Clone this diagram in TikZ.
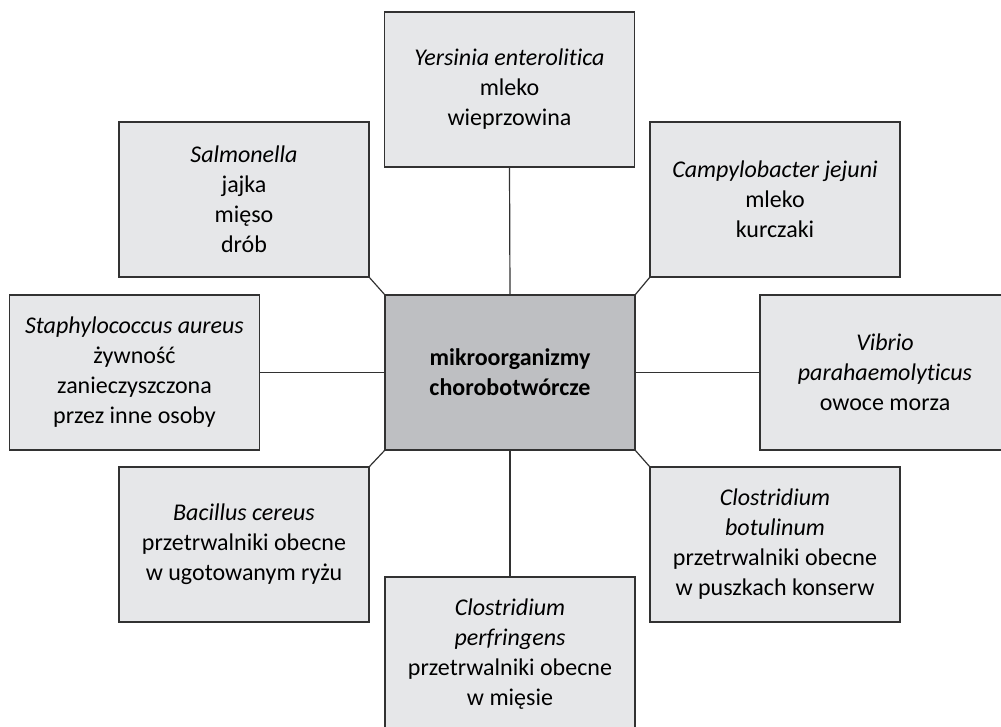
\documentclass[tikz,border=0pt]{standalone}
\usepackage{fontspec}
\setmainfont{Carlito}[Ligatures={NoCommon}]
\definecolor{BoxGrey}{RGB}{230,231,233}
\definecolor{HubGrey}{RGB}{190,191,194}
\definecolor{EdgeGrey}{RGB}{50,50,50}
\tikzset{
  srcbox/.style={draw=EdgeGrey, line width=1.4pt, fill=BoxGrey, minimum width=250pt, minimum height=155pt,
    inner sep=0pt, outer sep=0pt, align=center, font=\fontsize{24}{30}\selectfont},
  hubbox/.style={srcbox, fill=HubGrey, font=\fontsize{24}{30}\selectfont\bfseries},
  link/.style={draw=EdgeGrey, line width=1.2pt}
}
\begin{document}
\begin{tikzpicture}[x=1pt, y=-1pt]
                \useasboundingbox (0,0) rectangle (1001,726);
                \clip (0,0) rectangle (1001,726);
                % Centre
                \node[hubbox] (mid) at (510,372.5) {mikroorganizmy\\chorobotwórcze};
                
                % Top row
                \node[srcbox] (yer) at (509.5,89.5) {\textit{Yersinia enterolitica}\\mleko\\wieprzowina};
                \node[srcbox] (sal) at (244,199.5) {\textit{Salmonella}\\jajka\\mięso\\drób};
                \node[srcbox] (cam) at (775,199.5) {\textit{Campylobacter jejuni}\\mleko\\kurczaki};
                
                % Middle row
                \node[srcbox] (sta) at (134.5,372.5) {\textit{Staphylococcus aureus}\\żywność\\zanieczyszczona\\przez inne osoby};
                \node[srcbox] (vib) at (885,372.5) {\textit{Vibrio}\\\textit{parahaemolyticus}\\owoce morza};
                
                % Bottom row
                \node[srcbox] (bac) at (244,544.5) {\textit{Bacillus cereus}\\przetrwalniki obecne\\w ugotowanym ryżu};
                \node[srcbox] (bot) at (775,544.5) {\textit{Clostridium}\\\textit{botulinum}\\przetrwalniki obecne\\w puszkach konserw};
                \node[srcbox] (per) at (510,654.5) {\textit{Clostridium}\\\textit{perfringens}\\przetrwalniki obecne\\w mięsie};
                
                % Connecting lines
                \draw[link] (yer.south) -- (mid.north);
                \draw[link] (sal.south east) -- (mid.north west);
                \draw[link] (cam.south west) -- (mid.north east);
                \draw[link] (sta.east) -- (mid.west);
                \draw[link] (vib.west) -- (mid.east);
                \draw[link] (bac.north east) -- (mid.south west);
                \draw[link] (bot.north west) -- (mid.south east);
                \draw[link] (per.north) -- (mid.south);
            \end{tikzpicture}
\end{document}
